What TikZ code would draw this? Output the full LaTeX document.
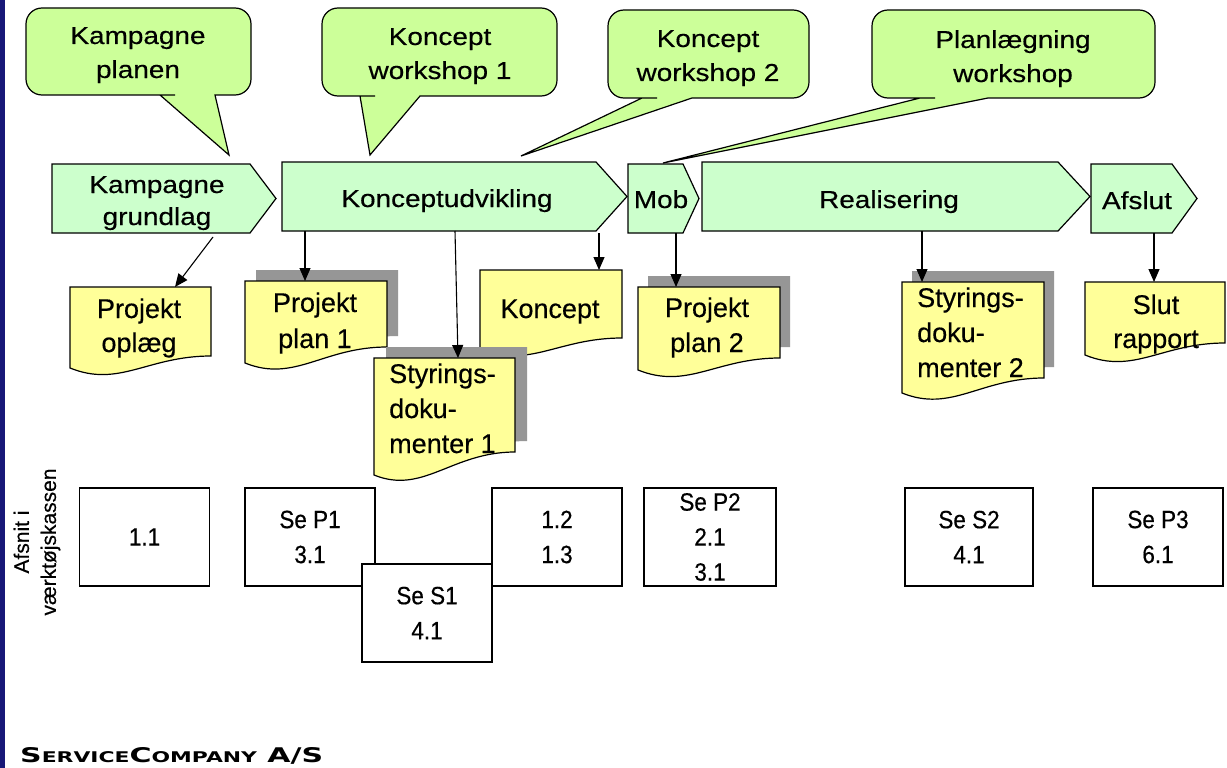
\documentclass[tikz,border=0pt]{standalone}
\usepackage{graphicx}
\usepackage{fontspec}
\setmainfont{Liberation Sans}[FakeBold=0.4]
\newfontfamily\widefont[FakeStretch=1.14,FakeBold=0.4]{Liberation Sans}
\newfontfamily\narrowfont[FakeStretch=0.9,FakeBold=0.4]{Liberation Sans}
\newfontfamily\brandfont{DejaVu Sans}
\usetikzlibrary{arrows.meta}

\definecolor{calloutgreen}{RGB}{204,255,153}
\definecolor{phasegreen}{RGB}{204,255,204}
\definecolor{docyellow}{RGB}{255,255,153}
\definecolor{shadowgray}{RGB}{150,150,150}
\definecolor{edgenavy}{RGB}{24,24,120}

% speech bubble: L R T B baseL baseR tipx tipy
\newcommand\speechbubble[8]{%
  \draw[callout] (#7,#8) -- (#6,#4) -- ({#6+1},#4) [rounded corners=16pt]
    -- (#2,#4) -- (#2,#3) -- (#1,#3) -- (#1,#4) -- ({#5-1},#4) [sharp corners]
    -- (#5,#4) -- cycle;}
% phase arrow: L bend tip T B
\newcommand\phasebox[5]{%
  \draw[phase] (#1,#4) -- (#2,#4) -- (#3,{(#4+#5)/2}) -- (#2,#5) -- (#1,#5) -- cycle;}
% document sheet with wavy bottom: style L R T Rb Lb
\newcommand\docsheet[6]{%
  \path[#1] (#2,#4) -- (#3,#4) -- (#3,#5)
    .. controls ({#2+0.55*(#3-#2)},#5) and ({#2+0.35*(#3-#2)},{#6+20}) .. (#2,#6) -- cycle;}

\begin{document}
\begin{tikzpicture}[x=1pt,y=-1pt,
  outline/.style={draw=black,line width=1.2pt,line join=miter},
  callout/.style={outline,fill=calloutgreen},
  phase/.style={outline,fill=phasegreen},
  sheet/.style={outline,fill=docyellow},
  sheetshadow/.style={fill=shadowgray},
  refbox/.style={outline,fill=white,minimum width=130pt,minimum height=98pt,
    inner sep=0pt,align=center,font=\narrowfont\fontsize{25}{35}\selectfont},
  flow/.style={line width=1.1pt,-{Triangle[length=13pt,width=11pt]}},
  spaced/.style={anchor=base,inner sep=0pt,font=\widefont\fontsize{24.5}{28}\selectfont},
  doctext/.style={anchor=base,inner sep=0pt,font=\fontsize{27}{35}\selectfont},
  doctextleft/.style={doctext,anchor=base west},
]
\useasboundingbox (0,0) rectangle (1227,768);
\fill[white] (0,0) rectangle (1227,768);

% left rule
\fill[edgenavy] (0,0) rectangle (5,768);

% workshops
\speechbubble{26}{251}{8}{95}{160}{215}{229}{155}
\speechbubble{322}{557}{8}{96}{360}{420}{370}{155}
\speechbubble{608}{809}{10}{98}{642}{692}{521}{156}
\speechbubble{872}{1155}{10}{98}{920}{988}{663}{163}
\node[spaced] (c1a) at (138,44) {Kampagne};
\node[spaced] (c1b) at (138,78) {planen};
\node[spaced] (c2a) at (440,45) {Koncept};
\node[spaced] (c2b) at (440,79) {workshop 1};
\node[spaced] (c3a) at (708,47) {Koncept};
\node[spaced] (c3b) at (708,81) {workshop 2};
\node[spaced] (c4a) at (1013,48) {Planlægning};
\node[spaced] (c4b) at (1013,82) {workshop};

% phases
\phasebox{52}{250}{276}{164}{233}
\phasebox{282}{596}{627}{162}{231}
\phasebox{628}{683}{699}{164}{233}
\phasebox{702}{1058}{1090}{162}{231}
\phasebox{1091}{1172}{1197}{164}{233}
\node[spaced] (p1a) at (157,193) {Kampagne};
\node[spaced] (p1b) at (157,225) {grundlag};
\node[spaced] (p2) at (447,207) {Konceptudvikling};
\node[spaced] (p3) at (661,208) {Mob};
\node[spaced] (p4) at (889,208) {Realisering};
\node[spaced] (p5) at (1137,209) {Afslut};

% documents
\docsheet{sheet}{70}{211}{287}{356}{368}
\node[doctext] (d1a) at (139,318) {Projekt};
\node[doctext] (d1b) at (139,352) {oplæg};

\begin{scope}[shift={(11,-11)}]\docsheet{sheetshadow}{245}{387}{281}{347}{363}\end{scope}
\docsheet{sheet}{245}{387}{281}{347}{363}
\node[doctext] (d2a) at (315,312) {Projekt};
\node[doctext] (d2b) at (315,348) {plan 1};

\docsheet{sheet}{480}{622}{270}{338}{349}
\node[doctext] (d3) at (550,318) {Koncept};

\begin{scope}[shift={(12,-11)}]\docsheet{sheetshadow}{374}{515}{358}{452}{475}\end{scope}
\docsheet{sheet}{374}{515}{358}{452}{475}
\node[doctextleft] (d4a) at (389,383) {Styrings-};
\node[doctextleft] (d4b) at (389,418) {doku-};
\node[doctextleft] (d4c) at (389,453) {menter 1};

\begin{scope}[shift={(10,-11)}]\docsheet{sheetshadow}{638}{780}{287}{358}{370}\end{scope}
\docsheet{sheet}{638}{780}{287}{358}{370}
\node[doctext] (d5a) at (707,317) {Projekt};
\node[doctext] (d5b) at (707,352) {plan 2};

\begin{scope}[shift={(10,-11)}]\docsheet{sheetshadow}{902}{1044}{282}{378}{393}\end{scope}
\docsheet{sheet}{902}{1044}{282}{378}{393}
\node[doctextleft] (d6a) at (917,307) {Styrings-};
\node[doctextleft] (d6b) at (917,342) {doku-};
\node[doctextleft] (d6c) at (917,377) {menter 2};

\docsheet{sheet}{1085}{1225}{282}{343}{355}
\node[doctext] (d7a) at (1156,314) {Slut};
\node[doctext] (d7b) at (1156,348) {rapport};

% deliverable arrows
\coordinate (grundlag-out) at (213,237);  \coordinate (oplaeg-in) at (175,287);
\coordinate (udv-out1) at (305,231);      \coordinate (plan1-in) at (305,281);
\coordinate (udv-out2) at (455,231);      \coordinate (styr1-in) at (458,358);
\coordinate (udv-out3) at (599,233);      \coordinate (koncept-in) at (599,270);
\coordinate (mob-out) at (676,233);       \coordinate (plan2-in) at (676,287);
\coordinate (real-out) at (922,231);      \coordinate (styr2-in) at (922,282);
\coordinate (afslut-out) at (1154,233);   \coordinate (slut-in) at (1154,282);
\draw[flow] (grundlag-out) -- (oplaeg-in);
\draw[flow] (udv-out1) -- (plan1-in);
\draw[flow] (udv-out2) -- (styr1-in);
\draw[flow] (udv-out3) -- (koncept-in);
\draw[flow] (mob-out) -- (plan2-in);
\draw[flow] (real-out) -- (styr2-in);
\draw[flow] (afslut-out) -- (slut-in);

% toolbox references
\node[refbox] (ref11) at (144.5,537) {1.1};
\node[refbox] (refp1) at (310,537) {Se P1\\3.1};
\node[refbox] (ref12) at (557,537) {1.2\\1.3};
\node[refbox,minimum width=132pt] (refp2) at (710,537) {Se P2\\2.1\\3.1};
\node[refbox,minimum width=128pt] (refs2) at (969,537) {Se S2\\4.1};
\node[refbox] (refp3) at (1158,537) {Se P3\\6.1};
\node[refbox] (refs1) at (427,613) {Se S1\\4.1};

\node[rotate=90,align=center,inner sep=0pt,font=\fontsize{21}{27}\selectfont]
  (toolbox) at (37,542) {Afsnit i\\værktøjskassen};

\node[anchor=base west,inner sep=0pt] (brand) at (20,762)
  {\resizebox{303pt}{15pt}{\brandfont\bfseries\fontsize{20}{20}\selectfont
   S{\fontsize{14.6}{15}\selectfont ERVICE}C{\fontsize{14.6}{15}\selectfont OMPANY} A/S}};
\end{tikzpicture}
\end{document}
